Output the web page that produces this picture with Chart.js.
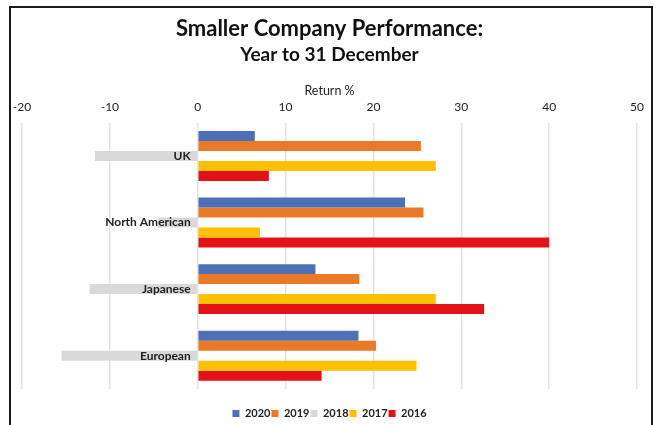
<!DOCTYPE html>
<html>
<head>
<meta charset="utf-8">
<script src="https://cdn.jsdelivr.net/npm/chart.js@4"></script>
<style>
  body { margin: 0; background: #fff; }
  #wrap { position: absolute; left: 0; top: 0; width: 656px; height: 425px; }
  #frame { position: absolute; left: 9px; top: 6px; width: 640px; height: 430px;
           border: 2px solid #1a1a1a; pointer-events: none; }
</style>
</head>
<body>
<div id="wrap"><canvas id="chart" width="656" height="425"></canvas></div>
<div id="frame"></div>
<script>
var categories = ["UK", "North American", "Japanese", "European"];
var years = ["2020", "2019", "2018", "2017", "2016"];
var colors = ["#4D70B7", "#EA7A25", "#D9D9D9", "#FFC000", "#E31216"];

var ret2020 = [6.5, 23.6, 13.4, 18.3];
var ret2019 = [25.4, 25.7, 18.4, 20.3];
var ret2018 = [-11.7, -4.5, -12.3, -15.5];
var ret2017 = [27.1, 7.1, 27.1, 24.9];
var ret2016 = [8.1, 40.0, 32.6, 14.1];

var series = [ret2020, ret2019, ret2018, ret2017, ret2016];
var fontFam = "Lato, 'Open Sans', sans-serif";

var datasets = series.map(function(vals, i){
    return {
        label: years[i],
        data: vals,
        backgroundColor: colors[i],
        borderWidth: 0,
        categoryPercentage: 0.75,
        barPercentage: 1.0
    };
});

// category names sit at the zero line, on top of the bars
var zeroLabels = {
    id: 'zeroLabels',
    afterDatasetsDraw: function(chart){
        var c = chart.ctx, xs = chart.scales.x, ys = chart.scales.y;
        var x0 = xs.getPixelForValue(0) - 7;
        c.save();
        c.font = "bold 12px " + fontFam;
        c.fillStyle = '#222';
        c.textAlign = 'right';
        c.textBaseline = 'middle';
        chart.data.labels.forEach(function(lab, i){
            c.fillText(lab, x0, ys.getPixelForValue(i));
        });
        c.restore();
    }
};

var ctx = document.getElementById("chart").getContext("2d");
var myChart = new Chart(ctx, {
    type: 'bar',
    data: { labels: categories, datasets: datasets },
    plugins: [zeroLabels],
    options: {
        indexAxis: 'y',
        responsive: false,
        animation: false,
        layout: { padding: { left: 22, right: 19, top: 4, bottom: -4 } },
        plugins: {
            title: {
                display: true,
                text: 'Smaller Company Performance:',
                color: '#111',
                font: { family: fontFam, size: 22, weight: 'bold' },
                padding: { top: 12, bottom: 1 }
            },
            subtitle: {
                display: true,
                text: 'Year to 31 December',
                color: '#111',
                font: { family: fontFam, size: 19, weight: 'bold' },
                padding: { top: 0, bottom: 17 }
            },
            legend: {
                position: 'bottom',
                title: { display: true, text: ' ', font: { size: 10 }, padding: 3 },
                labels: {
                    boxWidth: 7,
                    boxHeight: 7,
                    padding: 1,
                    color: '#222',
                    font: { family: fontFam, size: 11, weight: 'bold' }
                }
            },
            tooltip: { enabled: false }
        },
        scales: {
            x: {
                position: 'top',
                min: -20,
                max: 50,
                ticks: { stepSize: 10, color: '#222', padding: 8,
                         font: { family: fontFam, size: 12 } },
                grid: { color: '#e3e3e3', lineWidth: 1.5, drawTicks: false },
                border: { display: false },
                title: { display: true, text: 'Return %', color: '#222',
                         font: { family: fontFam, size: 12.5 }, padding: { top: 0, bottom: -6 } }
            },
            y: {
                display: false
            }
        }
    }
});
</script>
</body>
</html>
